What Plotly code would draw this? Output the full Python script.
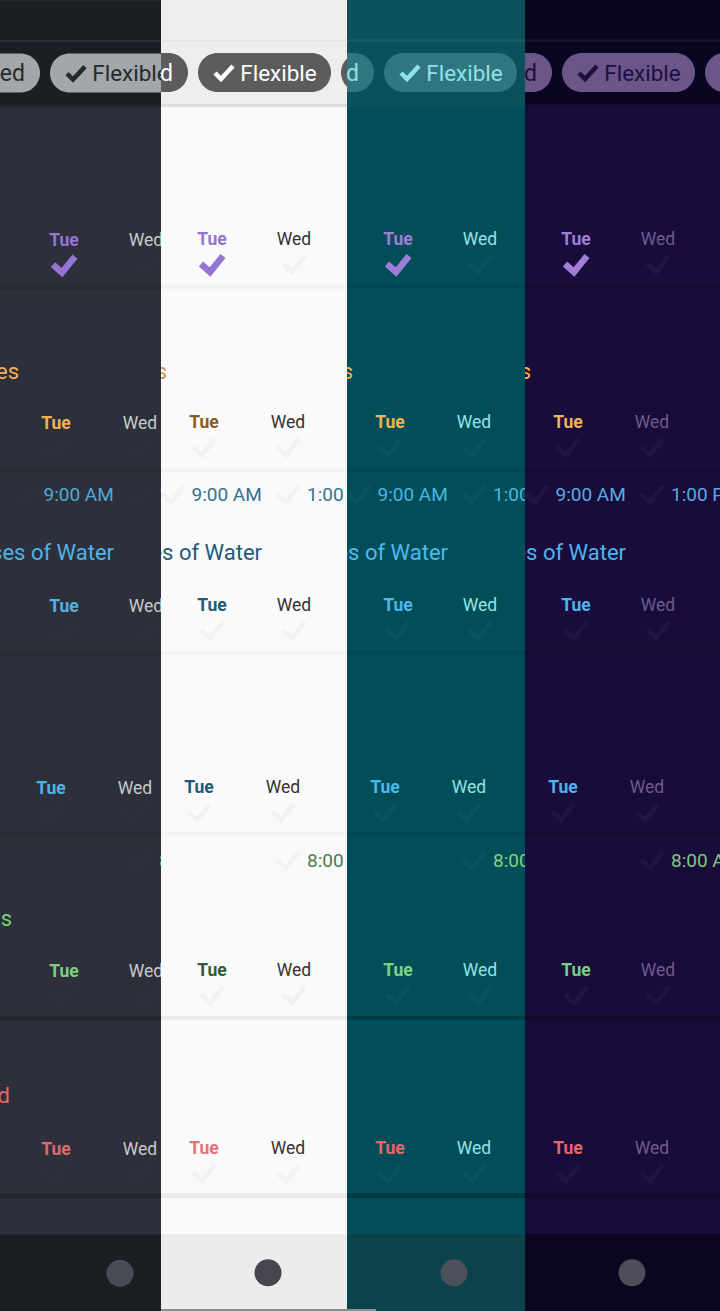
import plotly.graph_objects as go

# ---------- data (app coordinates shared by all four panels) ----------
PANELS = ["slate", "light", "teal", "indigo"]
PANEL_DOMAIN_PX = {"slate": (0, 161), "light": (161, 347), "teal": (347, 525), "indigo": (525, 720)}
PANEL_X_RANGE = {"slate": (148, 309), "light": (161, 347), "teal": (161, 339), "indigo": (161, 356)}
PANEL_Y_SHIFT = {"slate": -0.6, "light": 0, "teal": 0, "indigo": 0}

BODY = {"slate": "#2d303b", "light": "#fafafa", "teal": "#024e58", "indigo": "#190c3a"}
HEAD = {"slate": "#1b1e22", "light": "#eeeeee", "teal": "#0c5059", "indigo": "#0a0520"}
FOOT = {"slate": "#1b1e22", "light": "#ececec", "teal": "#0b434d", "indigo": "#0c071e"}
LINE_TOP = {"slate": "#2b2e38", "light": "#e4e4e4", "teal": "#1d5f69", "indigo": "#1b1533"}
LINE_TAB = {"slate": "#24262e", "light": "#dddddd", "teal": "#0a535d", "indigo": "#140a2e"}
SEP_SOFT = {"slate": "#282a34", "light": "#f4f4f4", "teal": "#024753", "indigo": "#160a32"}
SEP_HARD = {"slate": "#25272f", "light": "#ebebeb", "teal": "#003a44", "indigo": "#130929"}
PILL = {"slate": "#a2a7a9", "light": "#5c5c5c", "teal": "#31757e", "indigo": "#6b5589"}
PILL_TEXT = {"slate": "#262a30", "light": "#ffffff", "teal": "#8fe3e8", "indigo": "#1e0f42"}
WED = {"slate": "#c8c9cc", "light": "#333333", "teal": "#93e2e6", "indigo": "#6d5a91"}
FAINT = {"slate": "#2f323d", "light": "#f2f2f2", "teal": "#09535e", "indigo": "#221441"}
DOT = {"slate": "#4a4c55", "light": "#454650", "teal": "#4c505a", "indigo": "#4e4d5a"}

PURPLE = {"slate": "#9574d4", "light": "#9574d4", "teal": "#a07ed8", "indigo": "#a07ed8"}
ORANGE = {"slate": "#f3b24f", "light": "#8a5a20", "teal": "#f3b24f", "indigo": "#f5b452"}
ORANGE_H = {"slate": "#f3b24f", "light": "#c4964e", "teal": "#e6b050", "indigo": "#f3b24f"}
BLUE = {"slate": "#4fb3e6", "light": "#235a78", "teal": "#4fb8ea", "indigo": "#4fb3ee"}
BLUE_T = {"slate": "#4fa9d8", "light": "#357391", "teal": "#4bb5dd", "indigo": "#58a9e2"}
GREEN = {"slate": "#7ccf7f", "light": "#2f5e35", "teal": "#7ed283", "indigo": "#7ccf7f"}
GREEN_T = {"slate": "#7ccf7f", "light": "#4f7a4f", "teal": "#81cf84", "indigo": "#81c784"}
RED = {"slate": "#e0696c", "light": "#e57373", "teal": "#e0696c", "indigo": "#e0696c"}

HEADER_TEXT = "Flexible"
PILL_LEFT_TEXT = "ed"
DAY_A = "Tue"
DAY_B = "Wed"
TUE_X = [212, 204, 212, 199, 212, 204]
WED_X = [294, 288, 294, 283, 294, 288]
DAY_Y = [241, 424, 607, 789, 972, 1150]
CHECK_Y = [264, 447, 630, 812, 995, 1173]
DAY_COLORS = [PURPLE, ORANGE, BLUE, BLUE, GREEN, RED]

HEADINGS = ["es", "ses of Water", "s", "d"]
HEADING_RIGHT_X = [167, 262, 160, 158]
HEADING_Y = [373, 554, 920, 1097]
HEADING_COLORS = [ORANGE_H, BLUE, GREEN, RED]

TIMES = ["9:00 AM", "1:00 PM", "8:00 AM"]
TIME_LEFT_X = [191.5, 307, 307]
TIME_Y = [496, 496, 862]
TIME_COLORS = [BLUE_T, BLUE_T, GREEN_T]
TIME_CHECK_X = [173, 288, 288]
TIME_CHECK_Y = [494, 494, 860]

BAND_TOP = [0, 105, 1234]
BAND_BOTTOM = [105, 1234, 1311]
SEP_Y = [(284, 289), (468, 472), (651, 655), (832, 836), (1016, 1020), (1193, 1198)]
SEP_IS_HARD = [False, False, False, False, True, True]
PILL_SPANS = [(90, 188), (198, 331), (341, 480)]
PILL_Y = (53, 92)
PILL_TEXT_Y = 75
DOT_CENTER = (268, 1272.7)
DOT_R = 13.5
CHECK_DX = [-11, -2, 11]
CHECK_DY = [0, 8, -8]
PILL_CHECK_X = 224
PILL_CHECK_Y = 73
PILL_CHECK_DX = [-9, -3, 9]
PILL_CHECK_DY = [0, 6, -7]
PROGRESS = {"light": (161, 347), "teal": (161, 190)}

# ---------- build ----------
fig = go.Figure()
shapes = []


def add_text(i, x, y, text, color, size, anchor="middle center", weight=400):
    fig.add_trace(go.Scatter(
        x=[x], y=[y], text=[text], mode="text", textposition=anchor,
        textfont=dict(family="Roboto", size=size, color=color, weight=weight),
        xaxis=f"x{i}", yaxis=f"y{i}", showlegend=False, hoverinfo="skip"))


def add_check(i, xs, ys, dx, dy, color, width):
    px, py = [], []
    for cx, cy in zip(xs, ys):
        px += [cx + d for d in dx] + [None]
        py += [cy + d for d in dy] + [None]
    fig.add_trace(go.Scatter(
        x=px, y=py, mode="lines", line=dict(color=color, width=width),
        xaxis=f"x{i}", yaxis=f"y{i}", showlegend=False, hoverinfo="skip"))


def pill_path(x0, x1, y0, y1):
    r = (y1 - y0) / 2
    k = r * 0.5523
    ym = (y0 + y1) / 2
    return (f"M {x0 + r} {y0} L {x1 - r} {y0} "
            f"C {x1 - r + k} {y0} {x1} {ym - k} {x1} {ym} "
            f"C {x1} {ym + k} {x1 - r + k} {y1} {x1 - r} {y1} "
            f"L {x0 + r} {y1} "
            f"C {x0 + r - k} {y1} {x0} {ym + k} {x0} {ym} "
            f"C {x0} {ym - k} {x0 + r - k} {y0} {x0 + r} {y0} Z")


layout_axes = {}
for i, p in enumerate(PANELS, start=1):
    d0, d1 = PANEL_DOMAIN_PX[p]
    xr = PANEL_X_RANGE[p]
    sh = PANEL_Y_SHIFT[p]
    layout_axes[f"xaxis{i}"] = dict(domain=[d0 / 720, d1 / 720], range=list(xr), visible=False,
                                    fixedrange=True, anchor=f"y{i}")
    layout_axes[f"yaxis{i}"] = dict(domain=[0, 1], range=[1311 + sh, 0 + sh], visible=False,
                                    fixedrange=True, anchor=f"x{i}")
    ref = dict(xref=f"x{i}", yref=f"y{i}", layer="below")

    def rect(y0, y1, color, x0=xr[0], x1=xr[1]):
        shapes.append(dict(type="rect", x0=x0, x1=x1, y0=y0, y1=y1,
                           fillcolor=color, line_width=0, **ref))

    for top, bottom, col in zip(BAND_TOP, BAND_BOTTOM, [HEAD[p], BODY[p], FOOT[p]]):
        rect(top, bottom, col)
    rect(39.5, 41.5, LINE_TOP[p])
    rect(104, 107, LINE_TAB[p])
    for (s0, s1), hard in zip(SEP_Y, SEP_IS_HARD):
        rect(s0, s1, SEP_HARD[p] if hard else SEP_SOFT[p])
    if p in PROGRESS:
        rect(1309, 1311, "#8a8f8f", *PROGRESS[p])
    for a, b in PILL_SPANS:
        shapes.append(dict(type="path", path=pill_path(a, b, *PILL_Y),
                           fillcolor=PILL[p], line_width=0, **ref))
    shapes.append(dict(type="circle", x0=DOT_CENTER[0] - DOT_R, x1=DOT_CENTER[0] + DOT_R,
                       y0=DOT_CENTER[1] - DOT_R, y1=DOT_CENTER[1] + DOT_R,
                       fillcolor=DOT[p], line_width=0, **ref))

    # header pills
    add_text(i, 173, PILL_TEXT_Y, PILL_LEFT_TEXT, PILL_TEXT[p], 23, "middle left")
    add_text(i, 278.5, PILL_TEXT_Y, HEADER_TEXT, PILL_TEXT[p], 22.5)
    add_check(i, [PILL_CHECK_X], [PILL_CHECK_Y], PILL_CHECK_DX, PILL_CHECK_DY, PILL_TEXT[p], 4.5)

    # faint checks first, then text
    faint_x = TUE_X[1:] + WED_X + TIME_CHECK_X
    faint_y = CHECK_Y[1:] + CHECK_Y + TIME_CHECK_Y
    add_check(i, faint_x, faint_y, CHECK_DX, CHECK_DY, FAINT[p], 5)
    add_check(i, [TUE_X[0]], [CHECK_Y[0]], CHECK_DX, CHECK_DY, PURPLE[p], 6.5)

    for tx, wx, y, col in zip(TUE_X, WED_X, DAY_Y, DAY_COLORS):
        add_text(i, tx, y, DAY_A, col[p], 17.5, weight=700)
        add_text(i, wx, y, DAY_B, WED[p], 17.5)
    for txt, x, y, col in zip(HEADINGS, HEADING_RIGHT_X, HEADING_Y, HEADING_COLORS):
        add_text(i, x, y, txt, col[p], 22, "middle left")
    for txt, x, y, col in zip(TIMES, TIME_LEFT_X, TIME_Y, TIME_COLORS):
        add_text(i, x, y, txt, col[p], 19, "middle right")

fig.update_layout(
    width=720, height=1311, margin=dict(l=0, r=0, t=0, b=0, pad=0),
    paper_bgcolor="#2d303b", plot_bgcolor="rgba(0,0,0,0)",
    showlegend=False, shapes=shapes, **layout_axes)

fig.write_html("out.html", config=dict(displayModeBar=False, responsive=False),
               post_script="document.body.style.margin='0';document.body.style.overflow='hidden';")
